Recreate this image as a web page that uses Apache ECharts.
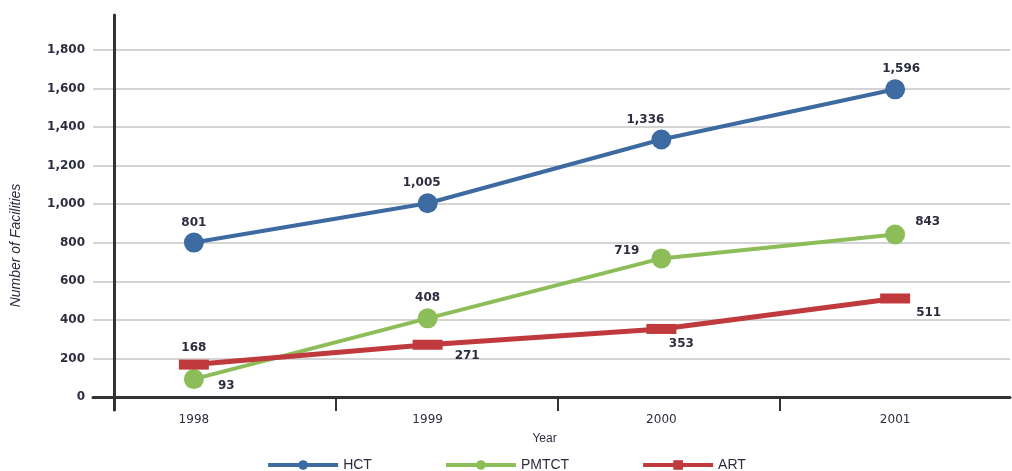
<!DOCTYPE html>
<html>
<head>
<meta charset="utf-8">
<script src="https://cdn.jsdelivr.net/npm/echarts@6/dist/echarts.min.js"></script>
<style>
  html, body { margin: 0; padding: 0; background: #fff; }
  #main { width: 1012px; height: 471px; }
</style>
</head>
<body>
<div id="main"></div>
<script>
// 数据
var years = ['1998', '1999', '2000', '2001'];
var hct = [801, 1005, 1336, 1596];
var pmtct = [93, 408, 719, 843];
var art = [168, 271, 353, 511];
var yTicks = [0, 200, 400, 600, 800, 1000, 1200, 1400, 1600, 1800];

// 标签位置 (每个点)
var hctLabels = [
    {position: 'top', distance: 4},
    {position: 'top', distance: 4, offset: [-6, 0]},
    {position: 'top', distance: 4, offset: [-16, 0]},
    {position: 'top', distance: 4, offset: [6, 0]}
];
var pmtctLabels = [
    {position: 'right', distance: 14, offset: [0, 7]},
    {position: 'top', distance: 4},
    {position: 'left', distance: 12, offset: [0, -8]},
    {position: 'right', distance: 10, offset: [0, -13]}
];
var artLabels = [
    {position: 'top', distance: 6},
    {position: 'right', distance: 12, offset: [0, 11]},
    {position: 'bottom', distance: 4, offset: [20, 0]},
    {position: 'right', distance: 6, offset: [0, 14]}
];

var textColor = '#2d2d40';
var axisColor = '#333';
var fontFamily = 'DejaVu Sans, Liberation Sans, sans-serif';

function fmt(v) {
    return String(v).replace(/\B(?=(\d{3})+(?!\d))/g, ',');
}

function withLabels(values, labels) {
    var out = [];
    for (var i = 0; i < values.length; i++) {
        out.push({value: values[i], label: labels[i]});
    }
    return out;
}

var dom = document.getElementById('main');
var myChart = echarts.init(dom, null, {renderer: 'canvas'});

var numLabel = {
    show: true,
    color: textColor,
    fontSize: 12,
    fontWeight: 'bold',
    fontFamily: fontFamily,
    formatter: function (p) { return fmt(p.value); }
};

var option = {
    backgroundColor: '#fff',
    animation: false,
    textStyle: {fontFamily: fontFamily},
    legend: {
        top: 453,
        left: 'center',
        itemWidth: 70,
        itemHeight: 12,
        itemGap: 72,
        lineStyle: {width: 4},
        data: ['HCT', 'PMTCT', 'ART'],
        textStyle: {color: textColor, fontSize: 14, fontFamily: 'Liberation Sans, sans-serif'}
    },
    grid: [
        // 数据
        {left: 77, right: 0, top: 50, bottom: 74},
        // 网格线 + y 标签 + x 轴线
        {left: 93, right: 2, top: 50, bottom: 74},
        // x 轴刻度
        {left: 114, right: 232, top: 50, bottom: 74},
        // y 轴线
        {left: 114, right: 10, top: 15, bottom: 61}
    ],
    xAxis: [
        {
            gridIndex: 0,
            type: 'category',
            data: years,
            boundaryGap: true,
            axisLine: {show: false},
            axisTick: {show: false},
            axisLabel: {color: textColor, fontSize: 12, margin: 17},
            name: 'Year',
            nameLocation: 'middle',
            nameGap: 36,
            nameTextStyle: {color: textColor, fontSize: 12, fontFamily: 'Liberation Sans, sans-serif'}
        },
        {
            gridIndex: 1,
            type: 'value',
            min: 0,
            max: 1,
            axisLine: {show: true, onZero: false, lineStyle: {color: axisColor, width: 3}},
            axisTick: {show: false},
            axisLabel: {show: false},
            splitLine: {show: false}
        },
        {
            gridIndex: 2,
            type: 'value',
            min: 0,
            max: 3,
            interval: 1,
            axisLine: {show: false},
            axisTick: {show: true, length: 14, lineStyle: {color: axisColor, width: 2}},
            axisLabel: {show: false},
            splitLine: {show: false}
        },
        {
            gridIndex: 3,
            type: 'value',
            show: false
        }
    ],
    yAxis: [
        {
            gridIndex: 0,
            type: 'value',
            min: 0,
            max: 1800,
            interval: 200,
            show: false
        },
        {
            gridIndex: 1,
            type: 'value',
            min: yTicks[0],
            max: yTicks[yTicks.length - 1],
            interval: 200,
            axisLine: {show: false},
            axisTick: {show: false},
            axisLabel: {
                color: textColor,
                fontSize: 12,
                fontWeight: 'bold',
                margin: 8,
                formatter: function (v) { return fmt(v); }
            },
            splitLine: {show: true, lineStyle: {color: '#d4d4d4', width: 2}},
            name: 'Number of Facilities',
            nameLocation: 'middle',
            nameGap: 70,
            nameTextStyle: {
                color: textColor,
                fontSize: 14,
                fontStyle: 'italic',
                fontFamily: 'Liberation Sans, sans-serif',
                padding: [0, 44, 0, 0]
            }
        },
        {
            gridIndex: 2,
            type: 'value',
            show: false
        },
        {
            gridIndex: 3,
            type: 'value',
            axisLine: {show: true, lineStyle: {color: axisColor, width: 3}},
            axisTick: {show: false},
            axisLabel: {show: false},
            splitLine: {show: false}
        }
    ],
    series: [
        {
            name: 'HCT',
            type: 'line',
            xAxisIndex: 0,
            yAxisIndex: 0,
            data: withLabels(hct, hctLabels),
            color: '#3c6aa1',
            symbol: 'circle',
            symbolSize: 20,
            lineStyle: {width: 4},
            label: numLabel
        },
        {
            name: 'PMTCT',
            type: 'line',
            xAxisIndex: 0,
            yAxisIndex: 0,
            data: withLabels(pmtct, pmtctLabels),
            color: '#8dbd58',
            symbol: 'circle',
            symbolSize: 20,
            lineStyle: {width: 4},
            label: numLabel
        },
        {
            name: 'ART',
            type: 'line',
            xAxisIndex: 0,
            yAxisIndex: 0,
            data: withLabels(art, artLabels),
            color: '#c0393c',
            symbol: 'rect',
            symbolSize: [30, 10],
            lineStyle: {width: 5},
            label: numLabel
        }
    ]
};

if (option && typeof option === "object") {
    myChart.setOption(option, true);
}
</script>
</body>
</html>
